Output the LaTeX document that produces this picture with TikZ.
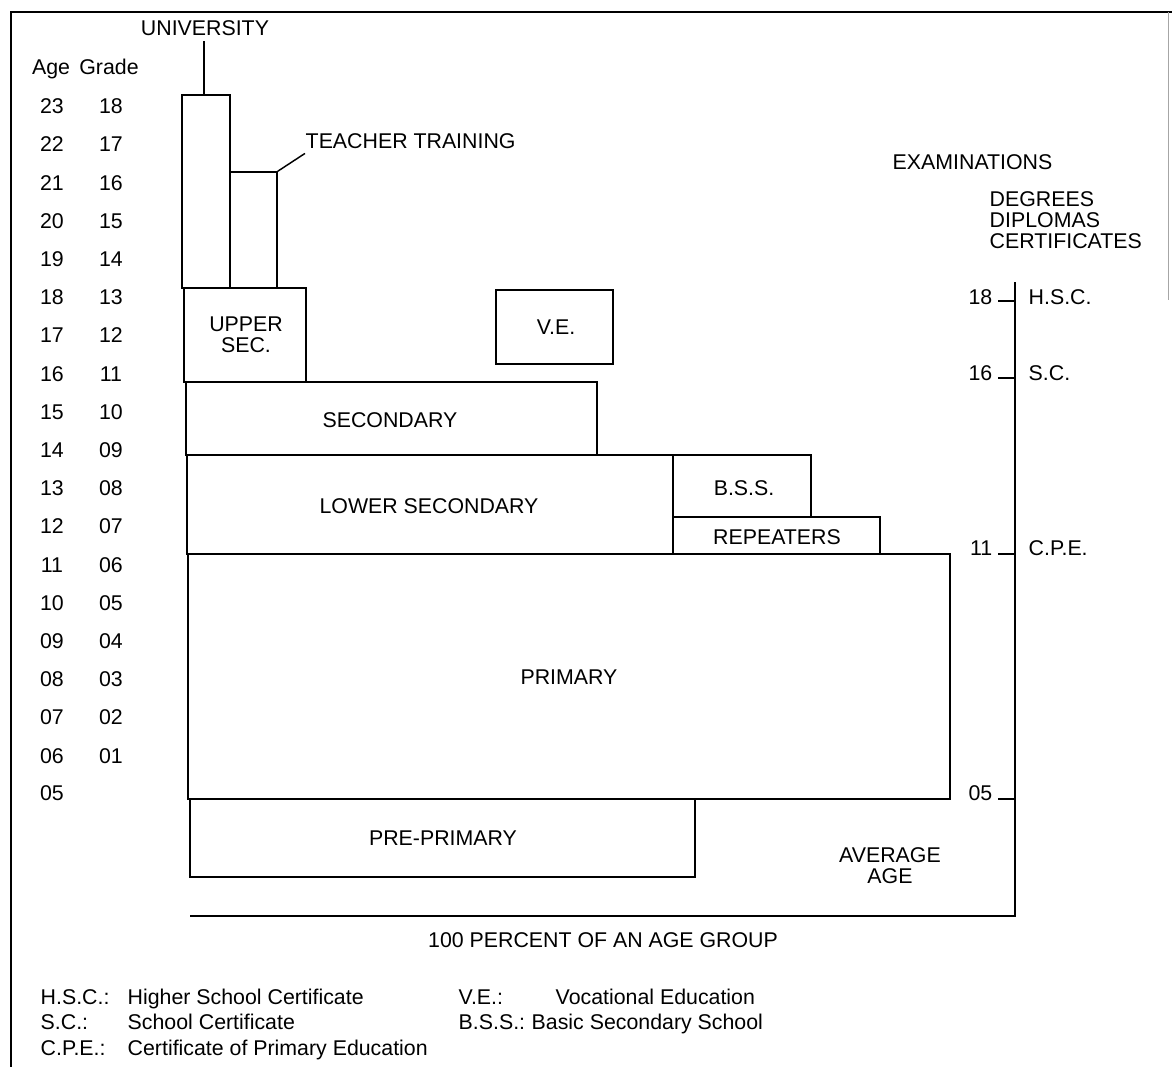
\documentclass[tikz,border=0pt]{standalone}
\usepackage{fontspec}
\setmainfont{Liberation Sans}
\usetikzlibrary{fit}
\newcommand\myfs{\fontsize{16}{15.6}\selectfont}
\begin{document}
\begin{tikzpicture}[x=0.75pt,y=-0.75pt,line width=1.1pt,
  box/.style={draw,inner sep=0pt},
  lbl/.style={inner sep=0pt,font=\myfs,align=center},
  one/.style={lbl,text height=11.5pt,text depth=0pt},
  lblw/.style={one,anchor=west},
  lble/.style={one,anchor=east},
  frame/.style={line width=1pt},
  rim/.style={line width=0.6pt,draw=black!35}]
\useasboundingbox (0,0) rectangle (1172,1067);
% frame
\draw[frame] (11,1067) -- (11,12) -- (1172,12);
\draw[rim] (1168,12) -- (1168,300);
% column headers and rows
\node[one] (hAge) at (51,67) {Age};
\node[one] (hGrade) at (109,67) {Grade};
\foreach \a/\g [count=\i from 0] in {23/18,22/17,21/16,20/15,19/14,18/13,17/12,16/11,15/10,14/09,13/08,12/07,11/06,10/05,09/04,08/03,07/02,06/01}{
  \node[one] (age\i) at (52,106+38.2*\i) {\a};
  \node[one] (grade\i) at (111,106+38.2*\i) {\g};
}
\node[one] (age18) at (52,793) {05};
% boxes
\node[box,fit={(182,95) (230,288)}] (uni) {};
\node[box,fit={(230,172) (277,288)}] (tt) {};
\node[box,fit={(184,288) (306,382)}] (upper) {};
\node[box,fit={(496,290) (613,364)}] (ve) {};
\node[box,fit={(186,382) (597,455)}] (sec) {};
\node[box,fit={(187,455) (673,554)}] (lsec) {};
\node[box,fit={(673,455) (811,517)}] (bss) {};
\node[box,fit={(673,517) (880,554)}] (rep) {};
\node[box,fit={(188,554) (950,799)}] (prim) {};
\node[box,fit={(190,799) (695,877)}] (pre) {};
% box texts
\node[lbl] (upperT) at (246,335) {UPPER\\SEC.};
\node[one] (veT) at (556,327) {V.E.};
\node[one] (secT) at (390,420) {SECONDARY};
\node[one] (lsecT) at (429,506) {LOWER SECONDARY};
\node[one] (bssT) at (744,488) {B.S.S.};
\node[one] (repT) at (777,537) {REPEATERS};
\node[one] (primT) at (569,677) {PRIMARY};
\node[one] (preT) at (443,838) {PRE-PRIMARY};
% labels with leaders
\node[one] (unilbl) at (205,28) {UNIVERSITY};
\draw (uni.north) ++(-2,0) -- ++(0,-53);
\node[lblw] (ttlbl) at (305,141) {TEACHER TRAINING};
\draw (tt.north east) -- ([yshift=-3pt]ttlbl.south west);
% axis
\coordinate (blL) at (190,916);
\coordinate (axB) at (1015,916);
\coordinate (axT) at (1015,282);
\draw (blL) -- (axB) -- (axT);
\node[one] (pct) at (603,940) {100 PERCENT OF AN AGE GROUP};
\node[lbl] (avg) at (890,866) {AVERAGE\\AGE};
\node[lblw] (exam) at (892,162) {EXAMINATIONS};
\node[lbl,anchor=west,align=left] (deg) at (989,220) {DEGREES\\DIPLOMAS\\CERTIFICATES};
% ticks
\foreach \y/\ty/\n/\t [count=\k] in {301/297/18/H.S.C.,378/373/16/S.C.,554/548/11/C.P.E.,799/793/05/{}}{
  \coordinate (tk\k) at (998,\y);
  \draw (tk\k) -- (1015,\y);
  \node[lble] (tn\k) at (993,\ty) {\n};
  \node[lblw] (tl\k) at (1028,\ty) {\t};
}
% legend
\node[lblw] (l1a) at (40,997) {H.S.C.:};
\node[lblw] (l1b) at (127,997) {Higher School Certificate};
\node[lblw] (l2a) at (40,1022) {S.C.:};
\node[lblw] (l2b) at (127,1022) {School Certificate};
\node[lblw] (l3a) at (40,1048) {C.P.E.:};
\node[lblw] (l3b) at (127,1048) {Certificate of Primary Education};
\node[lblw] (l4a) at (458,997) {V.E.:};
\node[lblw] (l4b) at (555,997) {Vocational Education};
\node[lblw] (l5a) at (458,1022) {B.S.S.:};
\node[lblw] (l5b) at (531,1022) {Basic Secondary School};
\end{tikzpicture}
\end{document}
